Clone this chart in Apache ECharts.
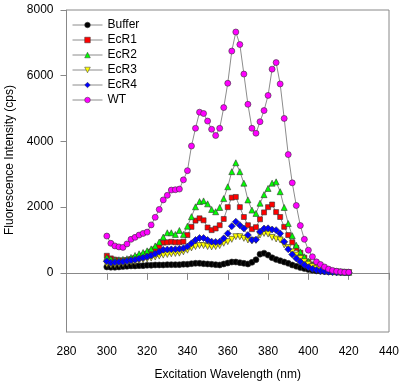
<!DOCTYPE html>
<html>
<head>
<meta charset="utf-8">
<script src="https://cdn.jsdelivr.net/npm/echarts@6/dist/echarts.min.js"></script>
<style>html,body{margin:0;padding:0;background:#fff}#c{width:401px;height:383px}</style>
</head>
<body>
<div id="c"></div>
<script>
// wavelengths 300..420 nm, step 2
const wavelengths = [300,302,304,306,308,310,312,314,316,318,320,322,324,326,328,330,332,334,336,338,340,342,344,346,348,350,352,354,356,358,360,362,364,366,368,370,372,374,376,378,380,382,384,386,388,390,392,394,396,398,400,402,404,406,408,410,412,414,416,418,420];

const buffer = [180,170,170,180,190,200,210,210,220,220,230,230,240,240,240,250,250,250,250,260,260,280,290,290,280,270,260,250,240,270,300,330,330,310,290,270,320,400,570,600,540,460,410,370,330,290,240,200,160,130,100,80,60,50,40,30,25,20,20,15,15];

const ecr1 = [520,440,400,380,380,390,420,450,480,520,580,650,720,800,920,930,945,930,930,950,1150,1400,1590,1660,1600,1380,1300,1350,1450,1640,2000,2290,2310,2000,1700,1450,1330,1390,1630,1840,2000,2080,1850,1700,1400,1150,930,760,610,460,330,240,170,120,90,60,45,35,25,20,15];

const ecr2 = [470,420,400,400,410,430,470,530,580,620,670,730,820,940,1090,1220,1220,1170,1290,1170,1420,1710,2010,2170,2190,2100,1930,1860,1990,2260,2620,3080,3350,3080,2730,2220,1910,1810,2120,2380,2570,2730,2770,2470,1990,1500,1130,840,640,490,350,250,180,130,95,65,45,35,25,20,15];

const ecr3 = [260,240,250,260,280,300,320,340,370,400,420,450,480,510,540,560,580,590,600,640,690,760,800,830,830,800,790,800,830,900,950,1020,1100,1100,1050,1000,975,990,1150,1200,1180,1080,1030,1000,850,770,640,540,440,340,260,190,140,100,70,50,35,25,20,15,10];

const ecr4 = [350,310,320,330,340,360,380,400,430,460,490,530,580,640,700,710,715,720,730,750,800,900,1000,1060,1060,1000,950,940,950,1050,1200,1420,1555,1450,1350,1150,1000,1010,1250,1350,1355,1320,1300,1200,950,720,560,440,335,240,170,120,85,60,45,35,25,20,15,10,10];

const wt = [1120,900,820,790,775,880,1020,1080,1150,1200,1240,1460,1690,1930,2220,2360,2520,2530,2550,2830,3110,3860,4400,4890,4850,4620,4370,4180,4400,5030,5770,6750,7330,6950,6050,5130,4400,4250,4600,4940,5400,6200,6400,5750,4700,3600,2740,2050,1440,1020,690,490,335,255,180,115,75,50,30,20,20];

const yTickValues = [0,2000,4000,6000,8000];

const seriesDefs = [
  {name:'Buffer', data:buffer, color:'#000000', symbol:'circle', size:6},
  {name:'EcR1', data:ecr1, color:'#ff0000', symbol:'rect', size:5},
  {name:'EcR2', data:ecr2, color:'#00ff00', symbol:'triangle', size:6},
  {name:'EcR3', data:ecr3, color:'#ffff00', symbol:'triangle', size:6, rotate:180},
  {name:'EcR4', data:ecr4, color:'#0000ff', symbol:'diamond', size:7},
  {name:'WT', data:wt, color:'#ff00ff', symbol:'circle', size:6}
];

const chart = echarts.init(document.getElementById('c'), null, {renderer:'canvas'});
const font = 'Liberation Sans, Arial, sans-serif';
chart.setOption({
  animation:false,
  textStyle:{fontFamily:font},
  grid:{left:66.5, right:12, top:10, bottom:51, show:true, borderColor:'#888', borderWidth:1,
    containLabel:false, outerBoundsMode:'none'},
  legend:{
    orient:'vertical', left:67, top:14, itemWidth:30, itemHeight:7, itemGap:3,
    textStyle:{fontFamily:font, fontSize:12, color:'#000'},
    data:seriesDefs.map(s=>({
      name:s.name,
      itemStyle:{color:s.color, borderColor:'#333', borderWidth:0.5},
      lineStyle:{color:'#8c8c8c', width:1}
    }))
  },
  xAxis:{
    type:'value', min:280, max:440, interval:20,
    name:'Excitation Wavelength (nm)', nameLocation:'middle', nameGap:37,
    nameTextStyle:{fontFamily:font, fontSize:12, color:'#000'},
    axisLine:{lineStyle:{color:'#888'}},
    axisTick:{length:7, lineStyle:{color:'#888'}},
    axisLabel:{fontFamily:font, fontSize:12, color:'#000', margin:14},
    splitLine:{show:false}
  },
  yAxis:{
    type:'value', min:-1800, max:8000,
    name:'Fluorescence Intensity (cps)', nameLocation:'middle', nameGap:42,
    nameTextStyle:{fontFamily:font, fontSize:12, color:'#000', padding:[0,0,0,22]},
    axisLine:{show:true, lineStyle:{color:'#888'}},
    axisTick:{show:true, length:6, lineStyle:{color:'#888'}, customValues:yTickValues},
    axisLabel:{fontFamily:font, fontSize:12, color:'#000', margin:13, customValues:yTickValues,
      formatter:v=>String(v)},
    splitLine:{show:false}
  },
  series:seriesDefs.map(s=>({
    name:s.name, type:'line',
    data:wavelengths.map((w,i)=>[w, s.data[i]]),
    symbol:s.symbol, symbolSize:s.size, symbolRotate:s.rotate||0,
    showAllSymbol:true,
    lineStyle:{color:'#8c8c8c', width:1},
    itemStyle:{color:s.color, borderColor:'#333', borderWidth:0.6},
    emphasis:{disabled:true}
  }))
});
</script>
</body>
</html>
